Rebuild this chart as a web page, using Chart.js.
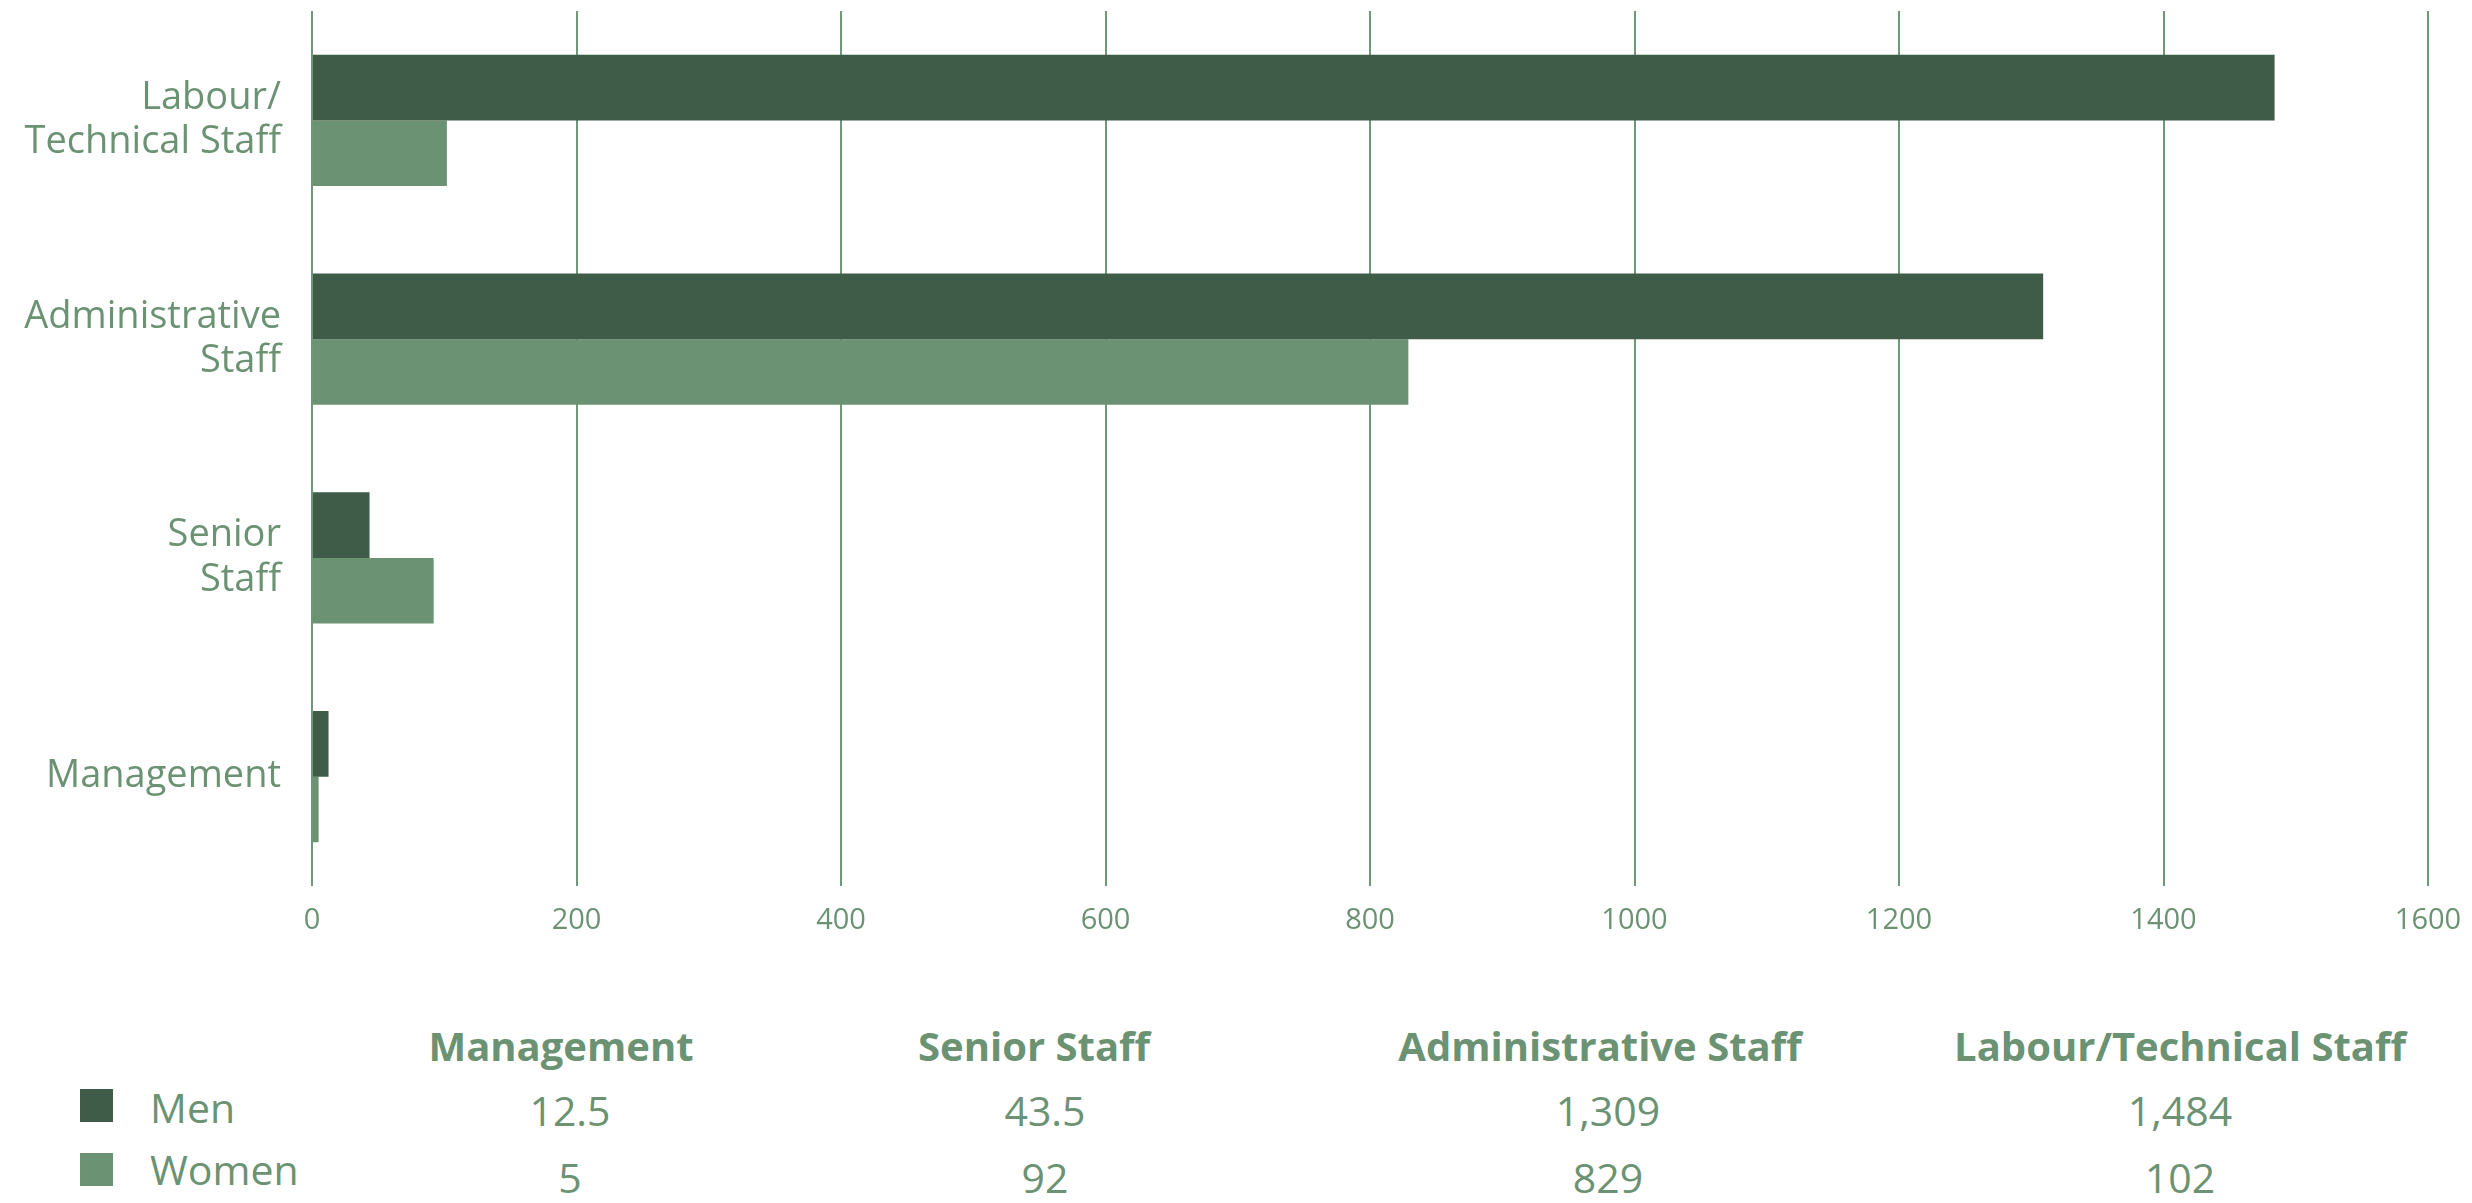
<!DOCTYPE html>
<html>
<head>
<meta charset="utf-8">
<script src="https://cdn.jsdelivr.net/npm/chart.js@4.4.1/dist/chart.umd.min.js"></script>
<style>
  html, body { margin: 0; padding: 0; background: #ffffff; }
  body { width: 2472px; height: 1203px; position: relative; overflow: hidden; font-family: 'Open Sans', sans-serif; color: #6B9373; }
  #chartBox { position: absolute; left: 0; top: 0; width: 2472px; height: 960px; }
  .cell { position: absolute; transform: translate(-50%, -50%); white-space: nowrap; }
  .head { font-weight: 700; font-size: 40px; }
  .val { font-size: 41px; }
  .swatch { position: absolute; width: 33px; height: 33px; }
  .legendText { position: absolute; font-size: 41px; transform: translateY(-50%); white-space: nowrap; }
</style>
</head>
<body>
<div id="chartBox"><canvas id="staffChart"></canvas></div>
<div id="table"></div>
<script>
const categories = ['Management', 'Senior Staff', 'Administrative Staff', 'Labour/Technical Staff'];
const axisLabels = ['Management', ['Senior', 'Staff'], ['Administrative', 'Staff'], ['Labour/', 'Technical Staff']];
const seriesNames = ['Men', 'Women'];
const menValues = [12.5, 43.5, 1309, 1484];
const womenValues = [5, 92, 829, 102];
const xMax = 1600;
const xStep = 200;

const textColor = '#6B9373';
const menColor = '#3E5C47';
const womenColor = '#6B9373';
const gridColor = '#6E9878';
const fontFamily = "'Open Sans', sans-serif";

// bottom summary table
const colCenters = [561, 1034, 1600, 2180];
const valCenters = [570, 1045, 1608, 2180];
const headY = 1045;
const rowY = [1110, 1177];
const swatchTop = [1089, 1153];
const legendY = [1107, 1169];
const table = document.getElementById('table');
const fmt = v => v.toLocaleString('en-US');

categories.forEach((name, i) => {
  const h = document.createElement('div');
  h.className = 'cell head';
  h.style.left = colCenters[i] + 'px';
  h.style.top = headY + 'px';
  h.textContent = name;
  table.appendChild(h);
});

[menValues, womenValues].forEach((vals, r) => {
  const sw = document.createElement('div');
  sw.className = 'swatch';
  sw.style.left = '80px';
  sw.style.top = swatchTop[r] + 'px';
  sw.style.background = r === 0 ? menColor : womenColor;
  table.appendChild(sw);

  const lt = document.createElement('div');
  lt.className = 'legendText';
  lt.style.left = '150px';
  lt.style.top = legendY[r] + 'px';
  lt.textContent = seriesNames[r];
  table.appendChild(lt);

  vals.forEach((v, i) => {
    const c = document.createElement('div');
    c.className = 'cell val';
    c.style.left = valCenters[i] + 'px';
    c.style.top = rowY[r] + 'px';
    c.textContent = fmt(v);
    table.appendChild(c);
  });
});

const ctx = document.getElementById('staffChart');

new Chart(ctx, {
  type: 'bar',
  data: {
    labels: axisLabels,
    datasets: [
      {
        label: seriesNames[0],
        data: menValues,
        backgroundColor: menColor,
        borderWidth: 0,
        categoryPercentage: 0.6,
        barPercentage: 1.0
      },
      {
        label: seriesNames[1],
        data: womenValues,
        backgroundColor: womenColor,
        borderWidth: 0,
        categoryPercentage: 0.6,
        barPercentage: 1.0
      }
    ]
  },
  options: {
    indexAxis: 'y',
    responsive: true,
    maintainAspectRatio: false,
    animation: false,
    layout: {
      padding: { left: 0, right: 44, top: 11, bottom: 0 }
    },
    plugins: {
      legend: { display: false },
      tooltip: { enabled: false },
      title: { display: false }
    },
    scales: {
      x: {
        min: 0,
        max: xMax,
        border: { display: false },
        grid: {
          color: gridColor,
          lineWidth: 2,
          drawTicks: false
        },
        ticks: {
          stepSize: xStep,
          padding: 17,
          color: textColor,
          font: { family: fontFamily, size: 29 },
          callback: function(value) {
            return value;
          }
        },
        afterFit(scale) {
          scale.height = 74;
          scale.paddingLeft = 0;
          scale.paddingRight = 0;
        }
      },
      y: {
        reverse: true,
        border: { display: false },
        grid: { display: false, drawTicks: false },
        ticks: {
          padding: 31,
          color: textColor,
          font: { family: fontFamily, size: 38, lineHeight: 1.17 }
        },
        afterFit(scale) {
          scale.width = 312;
          scale.paddingTop = 0;
          scale.paddingBottom = 0;
        }
      }
    }
  }
});
</script>
</body>
</html>
